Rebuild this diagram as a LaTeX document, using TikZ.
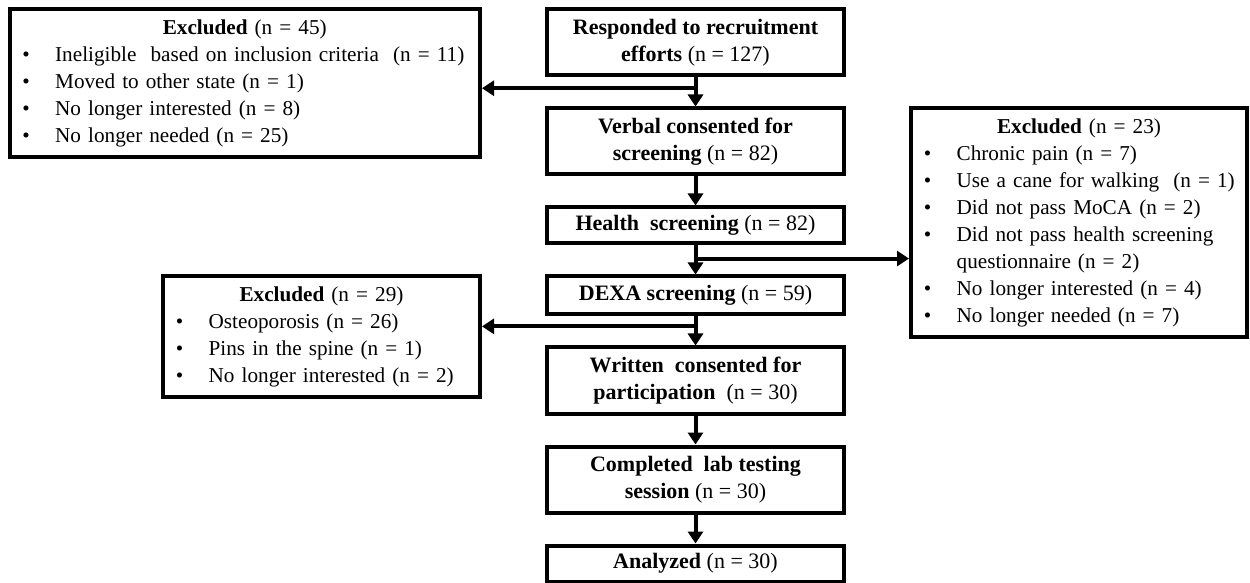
\documentclass[tikz,border=0pt]{standalone}
\usepackage{fontspec}
\setmainfont{Liberation Serif}
\usetikzlibrary{positioning,calc,arrows.meta}

\newcommand{\exitem}[1]{\makebox[\hsize][l]{\hspace*{8.35pt}\makebox[0pt]{\textbullet}\hspace*{14.5pt}#1}}
\newcommand{\exmore}[1]{\makebox[\hsize][l]{\hspace*{22.85pt}#1}}

\begin{document}
\begin{tikzpicture}[x=0.5pt,y=-0.5pt,node distance=14.5pt]
    % Styles
    \tikzstyle{stage} = [rectangle, draw=black, line width=2pt, minimum width=148.5pt, minimum height=18pt, inner sep=0pt, align=center, font=\fontsize{11}{13.5}\selectfont]
    \tikzstyle{tallstage} = [stage, minimum height=33pt]
    \tikzstyle{exclusion} = [rectangle, draw=black, line width=2pt, inner xsep=0pt, inner ysep=5pt, align=center, font=\fontsize{10.6}{13.5}\selectfont]
    \tikzstyle{arrow} = [line width=2pt, -{Triangle[length=6pt,width=7.5pt]}]

    \useasboundingbox (0,0) rectangle (1250,583);

    % Stages
    \node (responded) [tallstage] at (695.5,42.5) {\textbf{Responded to recruitment}\\\textbf{efforts} (n = 127)};
    \node (verbal) [tallstage, below=of responded] {\textbf{Verbal consented for}\\\textbf{screening} (n = 82)};
    \node (health) [stage, below=of verbal] {\textbf{Health~ screening} (n = 82)};
    \node (dexa) [stage, below=of health, minimum height=19pt] {\textbf{DEXA screening} (n = 59)};
    \node (written) [tallstage, below=of dexa] {\textbf{Written~ consented for}\\\textbf{participation}~ (n = 30)};
    \node (completed) [tallstage, below=of written] {\textbf{Completed~ lab testing}\\\textbf{session} (n = 30)};
    \node (analyzed) [stage, below=of completed] {\textbf{Analyzed} (n = 30)};

    % Exclusions
    \node (excl45) [exclusion, text width=235.25pt, left=31.5pt of responded.north west, anchor=north east] {\textbf{Excluded} (n = 45)\\
        \exitem{Ineligible~ based on inclusion criteria~ (n = 11)}\\
        \exitem{Moved to other state (n = 1)}\\
        \exitem{No longer interested (n = 8)}\\
        \exitem{No longer needed (n = 25)}};
    \node (excl23) [exclusion, text width=168pt, right=31.5pt of verbal.north east, anchor=north west] {\textbf{Excluded} (n = 23)\\
        \exitem{Chronic pain (n = 7)}\\
        \exitem{Use a cane for walking~ (n = 1)}\\
        \exitem{Did not pass MoCA (n = 2)}\\
        \exitem{Did not pass health screening}\\
        \exmore{questionnaire (n = 2)}\\
        \exitem{No longer interested (n = 4)}\\
        \exitem{No longer needed (n = 7)}};
    \node (excl29) [exclusion, text width=158.5pt, left=31.5pt of dexa.north west, anchor=north east] {\textbf{Excluded} (n = 29)\\
        \exitem{Osteoporosis (n = 26)}\\
        \exitem{Pins in the spine (n = 1)}\\
        \exitem{No longer interested (n = 2)}};

    % Arrows
    \coordinate (split1) at ($(responded.south)!0.37!(verbal.north)$);
    \coordinate (split2) at ($(health.south)!0.45!(dexa.north)$);
    \coordinate (split3) at ($(dexa.south)!0.34!(written.north)$);
    \draw [arrow] (responded) -- (verbal);
    \draw [arrow] (verbal) -- (health);
    \draw [arrow] (health) -- (dexa);
    \draw [arrow] (dexa) -- (written);
    \draw [arrow] (written) -- (completed);
    \draw [arrow] (completed) -- (analyzed);
    \draw [arrow] (split1) -- (split1 -| excl45.east);
    \draw [arrow] (split2) -- (split2 -| excl23.west);
    \draw [arrow] (split3) -- (split3 -| excl29.east);
\end{tikzpicture}
\end{document}
